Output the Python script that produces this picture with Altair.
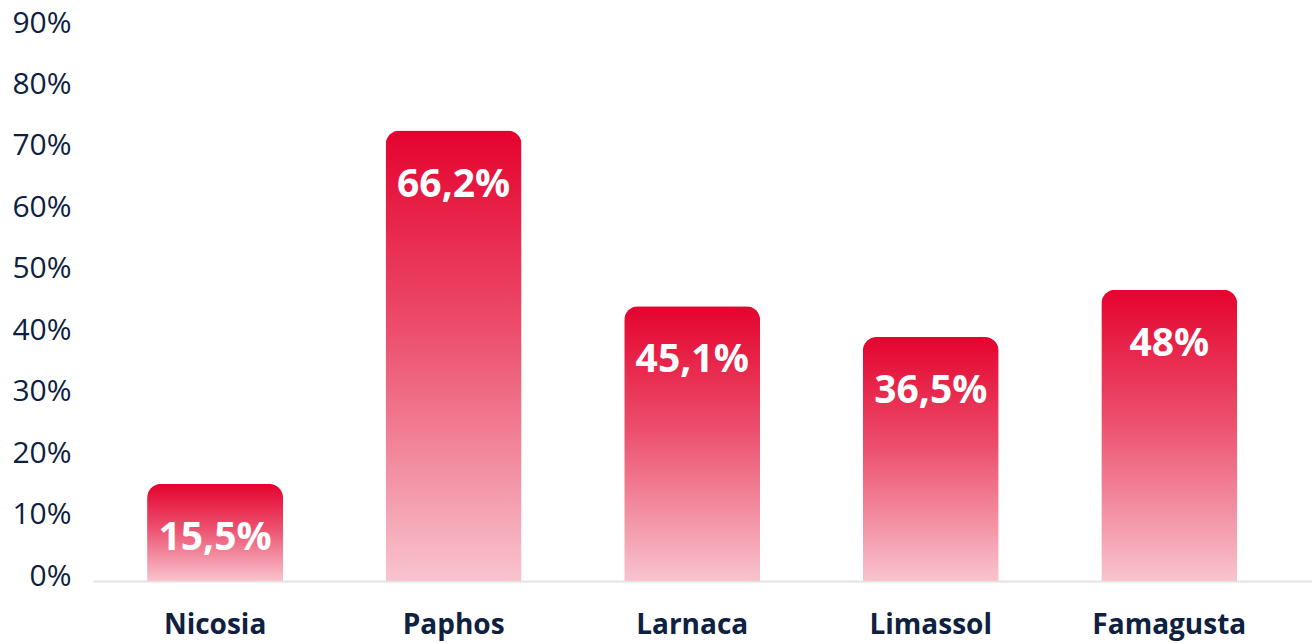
import altair as alt
import pandas as pd

cities = ["Nicosia", "Paphos", "Larnaca", "Limassol", "Famagusta"]
bar_values = [15.8, 73.3, 44.7, 39.7, 47.4]
label_texts = ["15,5%", "66,2%", "45,1%", "36,5%", "48%"]
y_ticks = [0, 10, 20, 30, 40, 50, 60, 70, 80, 90]

df = pd.DataFrame({"city": cities, "value": bar_values, "label": label_texts})

NAVY = "#0e2140"
FONT = "Open Sans"

x = alt.X(
    "city:N",
    sort=cities,
    scale=alt.Scale(paddingInner=0.43, paddingOuter=0.27, align=0.42),
    axis=alt.Axis(
        title=None, ticks=False, tickSize=0, labelPadding=52,
        labelBaseline="alphabetic", labelFont=FONT, labelFontSize=28,
        labelFontWeight="bold", labelColor=NAVY, domainColor="#e3e3e3",
        domainWidth=2, labelAngle=0,
    ),
)
y = alt.Y(
    "value:Q",
    scale=alt.Scale(domain=[0, 90], nice=False),
    axis=alt.Axis(
        title=None, values=y_ticks, labelExpr="datum.value + '%'",
        ticks=False, tickSize=0, domain=False, grid=False, labelPadding=22,
        labelAlign="right", labelFont=FONT, labelFontSize=30,
        labelColor=NAVY, labelOffset=-5,
    ),
)

grad = alt.LinearGradient(
    gradient="linear",
    stops=[
        alt.GradientStop(color="#e4032e", offset=0),
        alt.GradientStop(color="#ec4f6d", offset=0.45),
        alt.GradientStop(color="#f8c4ce", offset=1),
    ],
    x1=0, x2=0, y1=0, y2=1,
)

bars = alt.Chart(df).mark_bar(
    color=grad, cornerRadiusTopLeft=14, cornerRadiusTopRight=14
).encode(x=x, y=y)

labels = alt.Chart(df).mark_text(
    color="white", font=FONT, fontSize=39, fontWeight="bold",
    baseline="alphabetic", align="center", dy=66,
).encode(x=alt.X("city:N", sort=cities), y="value:Q", text="label:N")

chart = (
    alt.layer(bars, labels)
    .properties(
        width=1219, height=553,
        autosize=alt.AutoSizeParams(type="none"),
        padding={"left": 93, "top": 28, "right": 0, "bottom": 62},
        background="white",
    )
    .configure_view(stroke=None)
)

chart.save("out.html", embed_options={"renderer": "svg", "actions": False})
